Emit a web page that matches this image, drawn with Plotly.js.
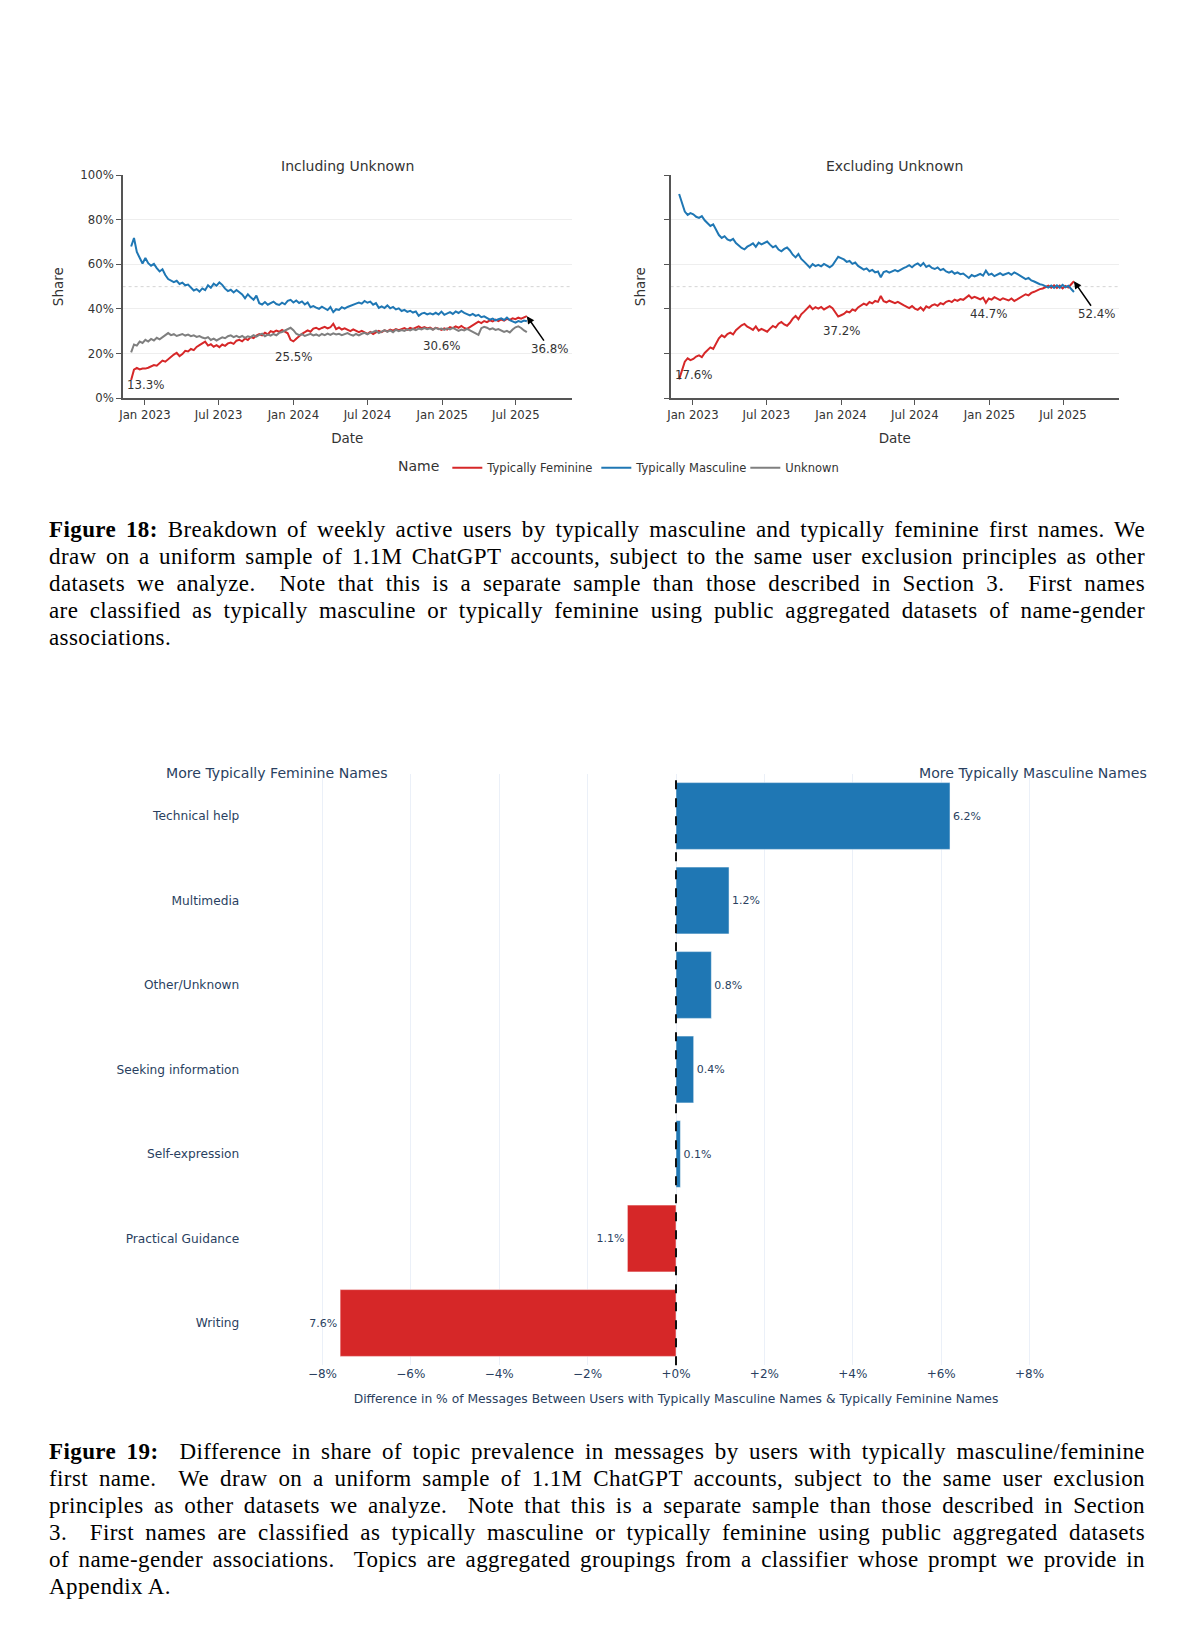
<!DOCTYPE html>
<html>
<head>
<meta charset="utf-8">
<script src="https://cdn.plot.ly/plotly-3.0.1.min.js"></script>
<style>
html,body{margin:0;padding:0;background:#fff;}
#wrap{position:relative;width:1200px;height:1631px;overflow:hidden;background:#fff;}
#chart{position:absolute;left:0;top:0;width:1200px;height:1631px;}
.cap{position:absolute;left:49px;width:1096px;font-family:"Liberation Serif","Times New Roman",serif;font-size:23px;line-height:27.1px;color:#000;letter-spacing:0.4px;}
.ln{height:27.1px;text-align:justify;text-align-last:justify;}
.ln.last{text-align:left;text-align-last:left;}
</style>
</head>
<body>
<div id="wrap">
<div id="chart"></div>
<div class="cap" style="top:515.5px;">
<div class="ln"><b>Figure 18:</b> Breakdown of weekly active users by typically masculine and typically feminine first names. We</div>
<div class="ln">draw on a uniform sample of 1.1M ChatGPT accounts, subject to the same user exclusion principles as other</div>
<div class="ln">datasets we analyze. &nbsp;Note that this is a separate sample than those described in Section 3. &nbsp;First names</div>
<div class="ln">are classified as typically masculine or typically feminine using public aggregated datasets of name-gender</div>
<div class="ln last">associations.</div>
</div>
<div class="cap" style="top:1437.5px;">
<div class="ln"><b>Figure 19:</b> &nbsp;Difference in share of topic prevalence in messages by users with typically masculine/feminine</div>
<div class="ln">first name. &nbsp;We draw on a uniform sample of 1.1M ChatGPT accounts, subject to the same user exclusion</div>
<div class="ln">principles as other datasets we analyze. &nbsp;Note that this is a separate sample than those described in Section</div>
<div class="ln">3. &nbsp;First names are classified as typically masculine or typically feminine using public aggregated datasets</div>
<div class="ln">of name-gender associations. &nbsp;Topics are aggregated groupings from a classifier whose prompt we provide in</div>
<div class="ln last">Appendix A.</div>
</div>
</div>
<script>
// ---------- Figure 18 data: weekly share (%) starting week of 2022-11-28 ----------
const START_WEEK = '2022-11-28';

// Including Unknown
const feminineIncl = [
 8.2,12.8,13.6,12.9,13.3, 13.3,13.7,14.4,14.9,14.6, 15.8,16.9,16.4,17.6,18.5, 19.6,20.4,18.9,19.8,21.3,
 21.0,22.1,21.6,23.0,23.8, 24.5,25.4,23.6,24.2,23.1, 23.8,22.9,24.1,23.5,24.6, 25.0,24.4,25.8,26.2,25.5,
 26.8,26.1,27.4,27.0,28.1, 28.7,28.2,29.4,28.6,30.1, 29.6,30.3,29.8,30.6,29.9, 29.1,26.2,25.5,26.7,28.0,
 28.9,29.6,30.4,29.8,31.2, 31.6,30.9,31.5,32.0,31.3, 31.8,33.4,31.0,31.7,30.8, 31.3,30.6,30.1,30.9,30.4,
 29.6,30.2,29.4,28.9,29.7, 28.8,29.5,30.2,29.6,30.4, 30.0,30.8,30.3,31.0,30.5, 30.9,31.4,30.7,31.5,31.1,
 31.8,32.2,31.4,31.9,31.3, 31.7,30.9,31.6,31.2,30.6, 31.3,30.8,31.9,31.4,32.2, 31.6,32.4,31.5,31.1,31.9,
 32.8,33.6,34.3,33.7,34.6, 34.1,34.9,34.4,35.2,34.6, 35.3,34.8,35.6,35.1,35.8, 35.4,36.1,35.7,36.2,36.8
];
const masculineIncl = [
 68.0,71.8,65.5,63.2,60.4, 62.8,60.5,59.4,60.2,58.3, 56.8,57.8,55.2,53.4,52.6, 52.0,52.6,51.2,51.8,50.6,
 50.9,49.8,48.3,48.9,47.8, 49.2,48.4,50.6,49.5,51.3, 50.4,51.9,50.8,49.1,48.0, 48.6,47.4,48.5,47.6,46.5,
 44.8,46.6,45.2,44.1,46.0, 42.6,42.0,43.1,41.9,42.6, 43.3,42.2,41.8,42.8,42.1, 43.6,44.1,42.9,43.8,42.7,
 43.4,42.0,42.9,40.8,41.3, 40.6,40.1,41.0,40.3,39.5, 40.9,38.6,39.9,39.6,40.8, 40.2,40.9,41.3,41.8,42.4,
 42.9,42.4,43.6,42.8,43.3, 41.9,42.6,40.5,41.2,40.4, 41.6,40.3,40.9,39.8,40.3, 39.1,39.6,38.7,39.2,38.4,
 38.9,36.9,37.9,38.3,37.6, 38.1,37.6,38.3,37.5,38.8, 37.4,37.9,38.6,37.8,38.9, 38.2,39.1,38.3,37.6,37.1,
 37.8,36.9,37.4,36.3,36.7, 35.9,35.2,35.7,34.9,35.4, 35.8,35.1,36.2,35.0,34.3, 33.9,34.6,34.2,34.8,34.5
];
const unknownIncl = [
 20.6,24.1,23.6,25.4,24.8, 26.2,25.4,26.6,25.9,27.1, 26.4,27.3,28.6,29.2,28.3, 28.7,27.9,28.4,28.8,28.1,
 28.5,27.8,28.2,27.5,27.9, 27.2,26.8,27.4,26.1,26.7, 25.9,26.6,27.3,26.9,27.8, 28.2,27.4,28.0,27.3,27.9,
 27.1,27.8,27.4,28.3,27.6, 28.4,28.9,27.8,28.5,28.1, 28.8,28.2,29.3,29.7,30.4, 31.2,31.6,30.5,28.9,28.3,
 28.7,27.9,28.4,28.9,28.2, 28.6,28.0,28.8,28.3,29.0, 28.4,29.1,28.6,28.9,28.3, 28.7,29.2,28.5,28.1,28.8,
 28.2,28.9,29.3,28.6,29.4, 29.7,30.3,29.2,29.9,30.5, 29.8,30.4,29.6,30.7,30.1, 30.6,30.2,30.9,30.4,31.0,
 30.5,31.2,30.8,31.4,30.9, 31.3,30.7,31.5,30.9,31.2, 30.6,31.3,30.8,31.5,30.9, 30.2,30.8,30.4,31.1,30.5,
 29.6,29.0,28.4,31.4,32.0, 31.6,30.9,31.3,30.6,31.0, 30.4,29.7,30.2,29.5,30.8, 31.8,32.2,31.5,30.4,29.6
];
// Excluding Unknown
const feminineExcl = [
 8.5,12.0,16.4,17.9,17.1, 17.6,18.7,19.2,18.4,20.3, 21.7,22.8,22.1,24.6,26.9, 28.2,27.4,28.8,29.4,28.6,
 30.5,31.6,32.7,33.3,32.1, 31.4,30.6,32.2,30.3,31.1, 30.4,29.8,31.2,32.4,31.7, 33.4,34.2,33.1,32.5,33.8,
 35.7,36.9,35.4,37.6,38.8, 40.1,41.4,39.9,40.8,40.2, 40.9,39.8,40.5,41.3,40.4, 38.6,36.6,37.2,37.8,38.9,
 38.5,39.8,39.2,40.7,41.4, 42.4,41.8,43.1,42.5,43.6, 43.2,45.8,43.5,43.0,43.7, 43.1,42.6,43.2,42.3,41.7,
 41.1,40.4,41.3,40.2,39.6, 40.7,39.4,41.2,40.5,41.6, 42.1,41.4,42.6,42.1,43.2, 43.7,43.1,44.2,43.6,44.4,
 44.1,45.2,46.1,44.8,45.4, 44.9,44.3,45.1,42.8,44.7, 44.2,45.3,44.6,44.0,44.8, 44.4,43.8,44.7,43.6,44.3,
 45.2,45.9,46.6,46.1,47.2, 47.7,48.4,48.9,49.2,49.7, 50.4,49.5,50.6,49.4,50.5, 49.2,50.3,49.6,51.1,52.4
];
const masculineExcl = [
 91.5,88.0,83.6,82.1,82.9, 82.4,81.3,80.8,81.6,79.7, 78.3,77.2,77.9,75.4,73.1, 71.8,72.6,71.2,70.6,71.4,
 69.5,68.4,67.3,66.7,67.9, 68.6,69.4,67.8,69.7,68.9, 69.6,70.2,68.8,67.6,68.3, 66.6,65.8,66.9,67.5,66.2,
 64.3,63.1,64.6,62.4,61.2, 59.9,58.6,60.1,59.2,59.8, 59.1,60.2,59.5,58.7,59.6, 61.4,63.4,62.8,62.2,61.1,
 61.5,60.2,60.8,59.3,58.6, 57.6,58.2,56.9,57.5,56.4, 56.8,54.2,56.5,57.0,56.3, 56.9,57.4,56.8,57.7,58.3,
 58.9,59.6,58.7,59.8,60.4, 59.3,60.6,58.8,59.5,58.4, 57.9,58.6,57.4,57.9,56.8, 56.3,56.9,55.8,56.4,55.6,
 55.9,54.8,53.9,55.2,54.6, 55.1,55.7,54.9,57.2,55.3, 55.8,54.7,55.4,56.0,55.2, 55.6,56.2,55.3,56.4,55.7,
 54.8,54.1,53.4,53.9,52.8, 52.3,51.6,51.1,50.8,50.3, 49.6,50.5,49.4,50.6,49.5, 50.8,49.7,50.4,48.9,47.6
];
const labelWeeks = [5, 57, 109, 139];   // weeks whose feminine share is labelled

// ---------- Figure 19 data ----------
const topics = ['Technical help','Multimedia','Other/Unknown','Seeking information','Self-expression','Practical Guidance','Writing'];
const topicDiff = [6.2, 1.2, 0.8, 0.4, 0.1, -1.1, -7.6];
const diffTicks = [-8,-6,-4,-2,0,2,4,6,8];

// ---------- helpers ----------
function weekDates(start, n){
  const t0 = Date.parse(start + 'T00:00:00Z'); const out = [];
  for (let i = 0; i < n; i++) out.push(new Date(t0 + i*7*864e5).toISOString().slice(0,10));
  return out;
}
const dates = weekDates(START_WEEK, feminineIncl.length);

const W = 1200, H = 1631;
const px = v => v / W;
const py = v => 1 - v / H;

const FONT = 'DejaVu Sans, Verdana, sans-serif';
const RED = '#d62728', BLUE = '#1f77b4', GRAY = '#7f7f7f';
const INK = '#2a3f5f';

function line(y, name, color, xa, ya, show){
  return {type:'scatter', mode:'lines', x:dates, y:y, name:name, legendgroup:name,
    showlegend:show, xaxis:xa, yaxis:ya, line:{color:color, width:2}, hoverinfo:'skip'};
}

const traces = [
  line(feminineIncl, 'Typically Feminine', RED, 'x', 'y', true),
  line(masculineIncl, 'Typically Masculine', BLUE, 'x', 'y', true),
  line(unknownIncl, 'Unknown', GRAY, 'x', 'y', true),
  line(feminineExcl, 'Typically Feminine', RED, 'x2', 'y2', false),
  line(masculineExcl, 'Typically Masculine', BLUE, 'x2', 'y2', false),
  {type:'bar', orientation:'h', y:topics, x:topicDiff, xaxis:'x3', yaxis:'y3',
   marker:{color:topicDiff.map(v => v >= 0 ? BLUE : RED), line:{color:'#ffffff', width:0.5}},
   text:topicDiff.map(v => Math.abs(v).toFixed(1) + '%'), textposition:'outside',
   textfont:{family:FONT, size:11, color:INK}, constraintext:'none', cliponaxis:false,
   showlegend:false, hoverinfo:'skip'}
];

const dateRange = ['2022-11-07','2025-11-16'];
function dateAxis(domain){
  return {domain:domain, type:'date', range:dateRange, dtick:'M6', tick0:'2023-01-01', tickformat:'%b %Y',
    ticks:'outside', ticklen:5, tickwidth:1, tickcolor:'#555', showline:true, linecolor:'#555', linewidth:1.5,
    showgrid:false, zeroline:false, tickfont:{size:11.7, color:'#333'}, automargin:false,
    title:{text:'Date', font:{size:13.5, color:'#333'}, standoff:12}};
}
function shareAxis(domain, labels, standoff){
  return {domain:domain, range:[0,100], dtick:20, ticksuffix:'%', showticklabels:labels,
    ticks:'outside', ticklen:5, tickwidth:1, tickcolor:'#555', showline:true, linecolor:'#555', linewidth:1.5,
    showgrid:true, gridcolor:'#eeeeee', gridwidth:1, zeroline:false, tickfont:{size:11.7, color:'#333'}, automargin:false,
    title:{text:'Share', font:{size:13.5, color:'#333'}, standoff:standoff}};
}
const tsY = [py(398.3), py(175)];

const annotations = [
  {text:'Including Unknown', xref:'paper', yref:'paper', x:px(347.3), xanchor:'center', y:py(166), yanchor:'middle', showarrow:false, font:{size:14, color:'#333'}},
  {text:'Excluding Unknown', xref:'paper', yref:'paper', x:px(894.8), xanchor:'center', y:py(166), yanchor:'middle', showarrow:false, font:{size:14, color:'#333'}},
  {text:'More Typically Feminine Names', xref:'paper', yref:'paper', x:px(163.5), xanchor:'left', y:py(773.5), yanchor:'middle', showarrow:false, font:{size:14.1, color:INK}},
  {text:'More Typically Masculine Names', xref:'paper', yref:'paper', x:px(1148.5), xanchor:'right', y:py(773.5), yanchor:'middle', showarrow:false, font:{size:14.1, color:INK}}
];
[[feminineIncl,'x','y'],[feminineExcl,'x2','y2']].forEach(([s, xa, ya]) => {
  labelWeeks.forEach((k, j) => {
    const last = j === labelWeeks.length - 1;
    const a = {text:s[k].toFixed(1) + '%', xref:xa, yref:ya, x:dates[k], y:s[k], font:{size:11.8, color:'#333'}};
    if (last) Object.assign(a, {showarrow:true, ax:23, ay:33, arrowhead:2, arrowsize:1, arrowwidth:1.5, arrowcolor:'#000'});
    else Object.assign(a, {showarrow:false, yshift:-16});
    annotations.push(a);
  });
});

const layout = {
  width:W, height:H, margin:{l:0, r:0, t:0, b:0},
  paper_bgcolor:'#ffffff', plot_bgcolor:'#ffffff',
  font:{family:FONT, size:11, color:'#333'},
  showlegend:true,
  legend:{orientation:'h', x:px(645.5), xanchor:'center', y:py(467.7), yanchor:'middle', valign:'middle',
    entrywidth:104, entrywidthmode:'pixels',
    bgcolor:'rgba(0,0,0,0)', font:{size:11.5, color:'#333'},
    title:{text:'Name', side:'left', font:{size:14, color:'#333'}}},
  xaxis:dateAxis([px(122.6), px(572)]),
  yaxis:Object.assign(shareAxis(tsY, true, 13), {anchor:'x'}),
  xaxis2:Object.assign(dateAxis([px(670.6), px(1119)]), {anchor:'y2'}),
  yaxis2:Object.assign(shareAxis(tsY, false, 15), {anchor:'x2'}),
  xaxis3:{domain:[px(247.3), px(1104.7)], anchor:'y3', range:[-9.7, 9.7],
    tickvals:diffTicks, ticktext:diffTicks.map(v => (v >= 0 ? '+' + v : '\u2212' + Math.abs(v)) + '%'),
    showgrid:true, gridcolor:'#EBF0F8', gridwidth:1, zeroline:false, showline:false, ticks:'',
    tickfont:{size:12, color:INK}, automargin:false,
    title:{text:'Difference in % of Messages Between Users with Typically Masculine Names & Typically Feminine Names', font:{size:12.3, color:INK}, standoff:14}},
  yaxis3:{domain:[py(1365.25), py(773.75)], anchor:'x3', autorange:'reversed', type:'category',
    showgrid:false, zeroline:false, showline:false, ticks:'', ticklabelstandoff:7,
    tickfont:{size:12.2, color:INK}, automargin:false},
  bargap:0.21,
  shapes:[
    {type:'line', xref:'x domain', yref:'y', x0:0, x1:1, y0:50, y1:50, line:{color:'#d4d4d4', width:1, dash:'dot'}, layer:'below'},
    {type:'line', xref:'x2 domain', yref:'y2', x0:0, x1:1, y0:50, y1:50, line:{color:'#d4d4d4', width:1, dash:'dot'}, layer:'below'},
    {type:'line', xref:'x3', yref:'y3 domain', x0:0, x1:0, y0:0, y1:1, line:{color:'#111', width:2, dash:'dash'}, layer:'above'}
  ],
  annotations:annotations
};

Plotly.newPlot('chart', traces, layout, {staticPlot:true, displayModeBar:false});
</script>
</body>
</html>
